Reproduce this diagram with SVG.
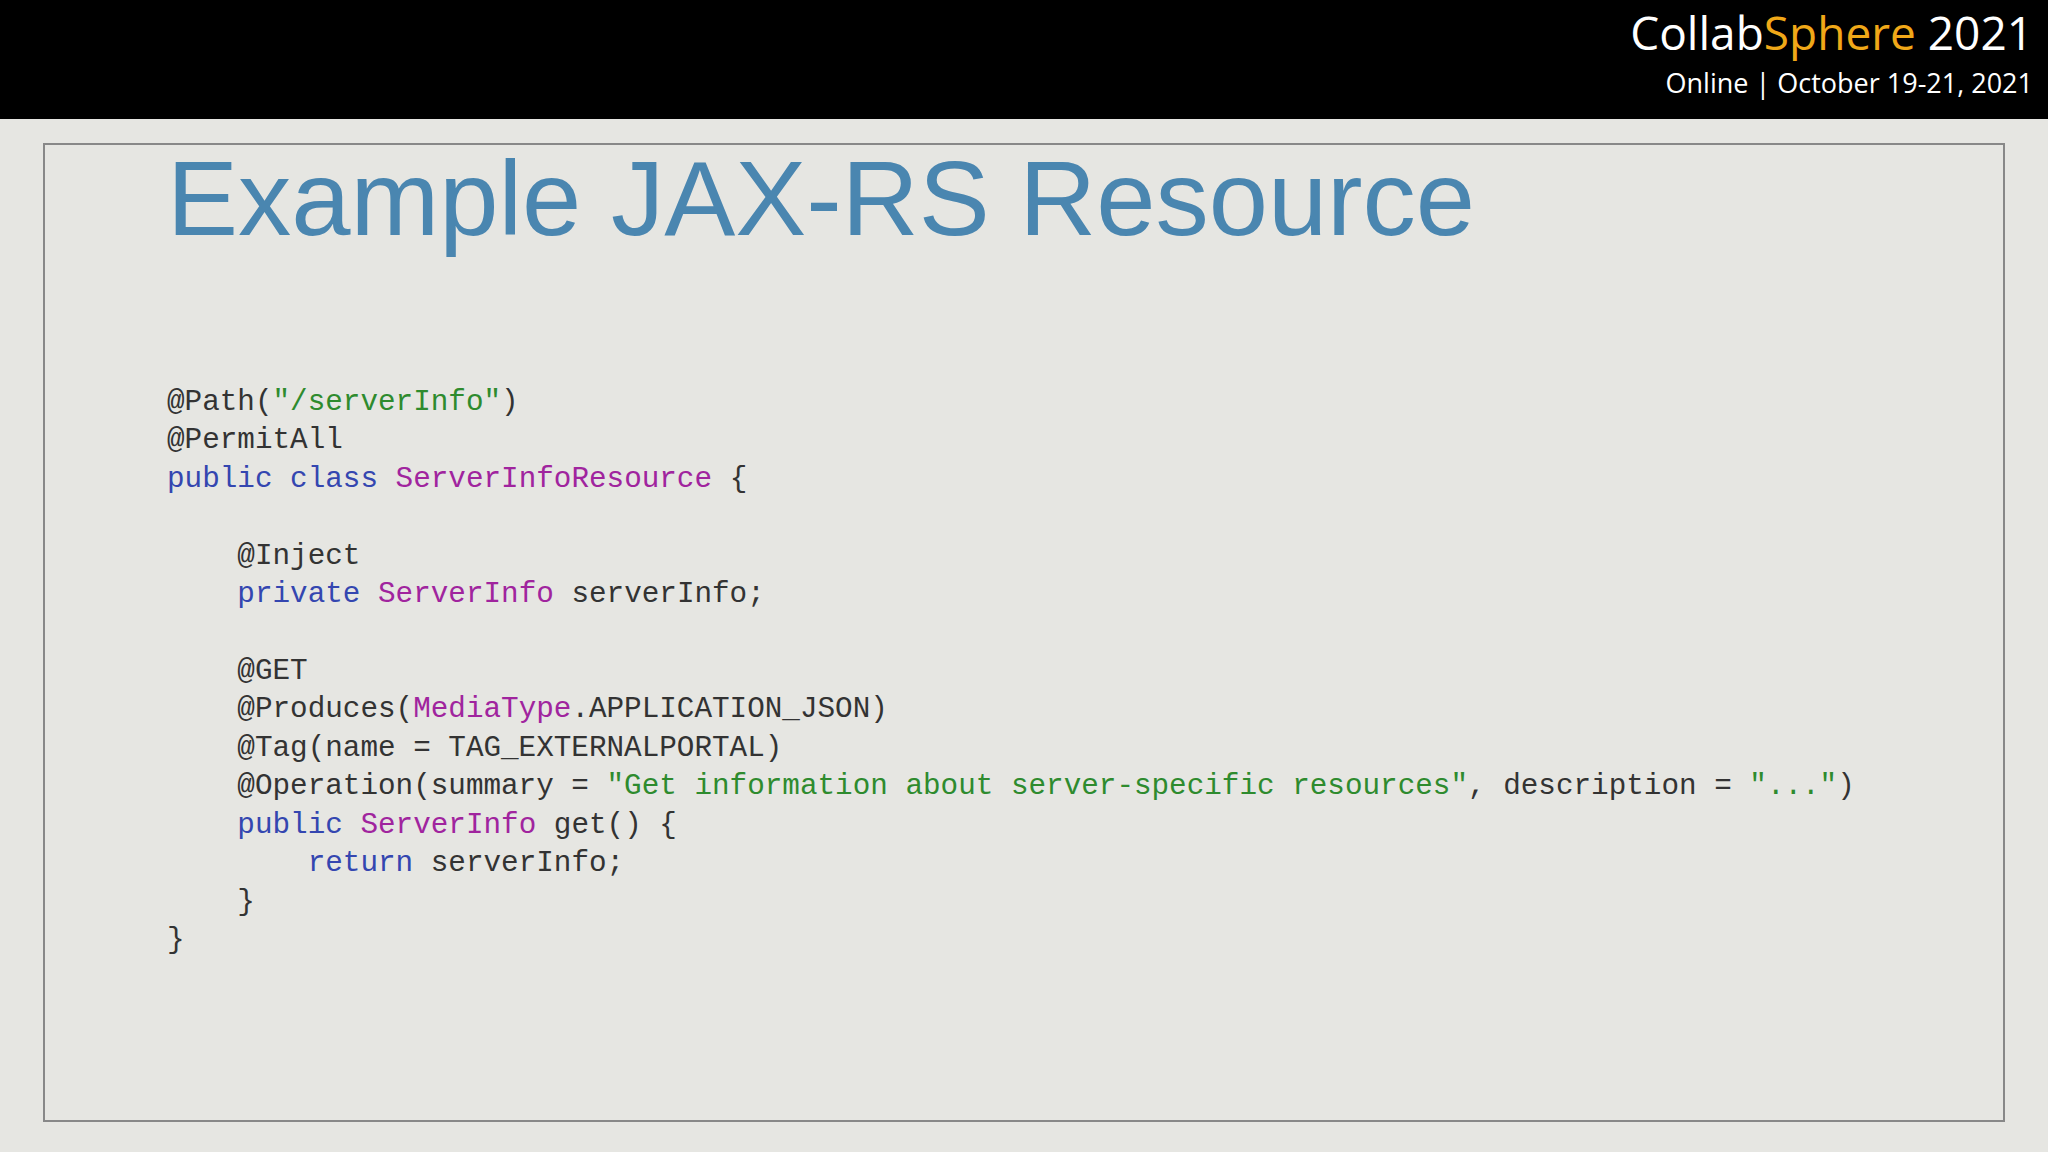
<svg xmlns="http://www.w3.org/2000/svg" width="2048" height="1152" viewBox="0 0 2048 1152">
<style>
.c{font-family:"Liberation Mono",monospace;font-size:29.3px;fill:#333;white-space:pre}
.k{fill:#3446b0}.t{fill:#a0249e}.s{fill:#2e8b2e}
</style>
<rect width="2048" height="1152" fill="#e6e6e2"/>
<rect width="2048" height="119" fill="#000"/>
<g id="brand" font-family="'Open Sans',sans-serif" text-anchor="end">
<text x="2033" y="50" font-size="46" fill="#fff">Collab<tspan fill="#f0a818">Sphere</tspan> 2021</text>
<text x="2033" y="93" font-size="27" fill="#fff">Online | October 19-21, 2021</text>
</g>
<rect id="frame" x="44" y="144" width="1960" height="977" fill="none" stroke="#888" stroke-width="2"/>
<text id="title" x="167" y="235" font-family="'Liberation Sans',Arial,sans-serif" font-size="106.5" fill="#4a86b0">Example JAX-RS Resource</text>
<g id="code" xml:space="preserve">
<text class="c" x="167" y="410">@Path(<tspan class="s">"/serverInfo"</tspan>)</text>
<text class="c" x="167" y="448">@PermitAll</text>
<text class="c" x="167" y="487"><tspan class="k">public class</tspan> <tspan class="t">ServerInfoResource</tspan> {</text>
<text class="c" x="167" y="564">    @Inject</text>
<text class="c" x="167" y="602">    <tspan class="k">private</tspan> <tspan class="t">ServerInfo</tspan> serverInfo;</text>
<text class="c" x="167" y="679">    @GET</text>
<text class="c" x="167" y="717">    @Produces(<tspan class="t">MediaType</tspan>.APPLICATION_JSON)</text>
<text class="c" x="167" y="756">    @Tag(name = TAG_EXTERNALPORTAL)</text>
<text class="c" x="167" y="794">    @Operation(summary = <tspan class="s">"Get information about server-specific resources"</tspan>, description = <tspan class="s">"..."</tspan>)</text>
<text class="c" x="167" y="833">    <tspan class="k">public</tspan> <tspan class="t">ServerInfo</tspan> get() {</text>
<text class="c" x="167" y="871">        <tspan class="k">return</tspan> serverInfo;</text>
<text class="c" x="167" y="910">    }</text>
<text class="c" x="167" y="948">}</text>
</g>
</svg>
